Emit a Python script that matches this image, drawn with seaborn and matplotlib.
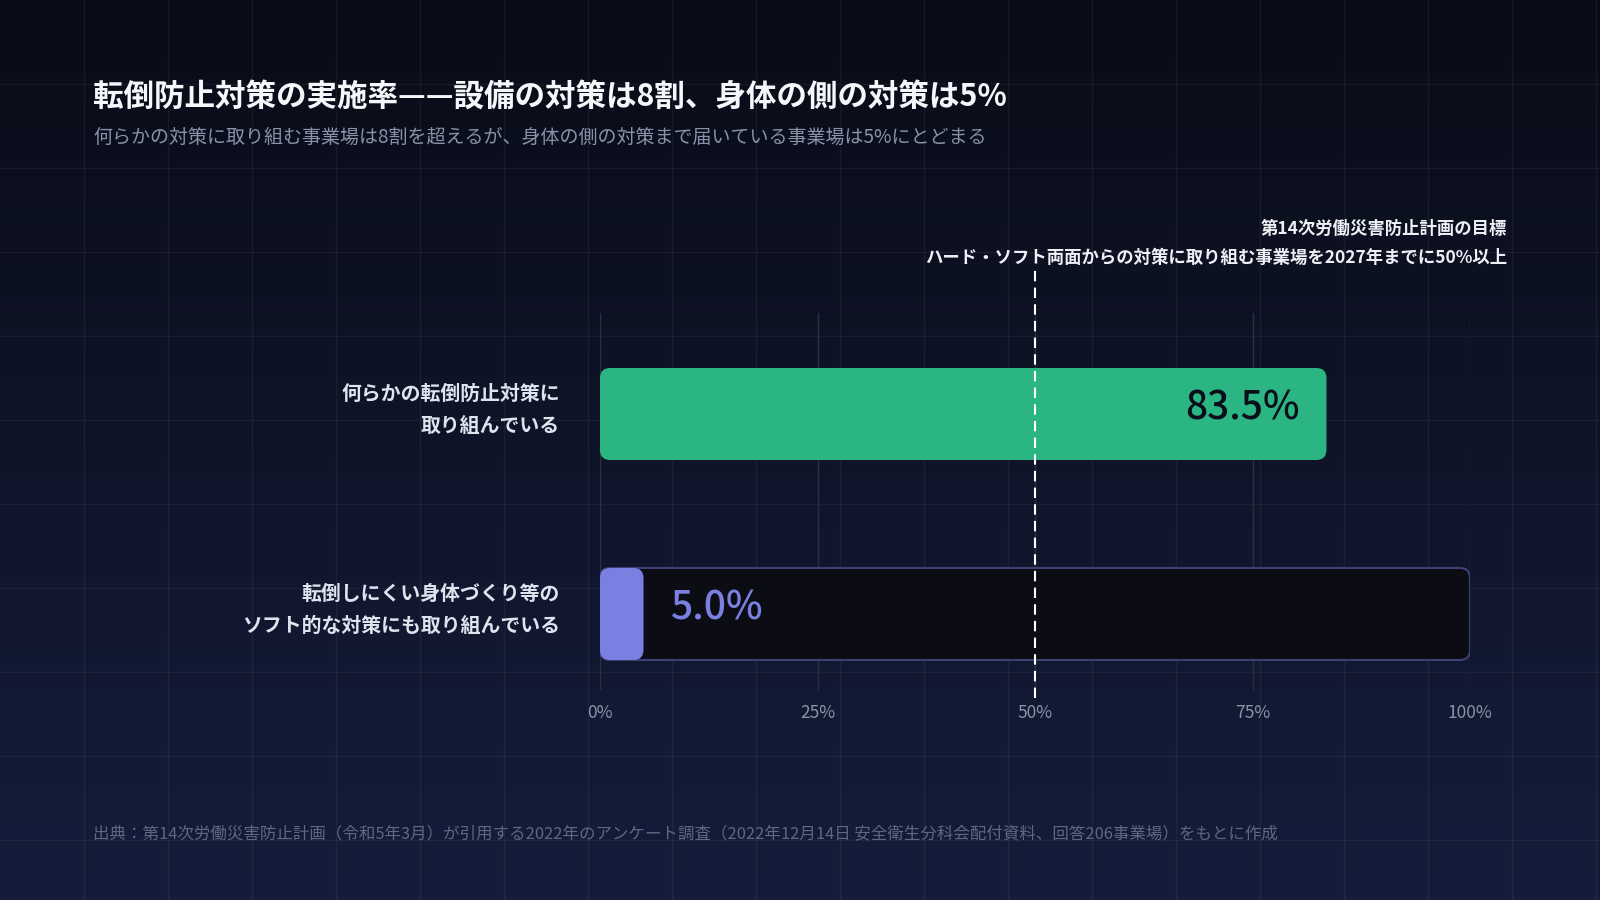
import matplotlib
matplotlib.use("Agg")
import matplotlib.pyplot as plt
from matplotlib.patches import FancyBboxPatch
import numpy as np
import pandas as pd
import seaborn as sns

# values
categories = ["何らかの転倒防止対策に\n取り組んでいる",
              "転倒しにくい身体づくり等の\nソフト的な対策にも取り組んでいる"]
values = [83.5, 5.0]
bar_colors = ["#2bb582", "#7a80e2"]
ticks = [0, 25, 50, 75, 100]
tick_labels = ["0%", "25%", "50%", "75%", "100%"]
target = 50

title = "転倒防止対策の実施率——設備の対策は8割、身体の側の対策は5%"
subtitle = "何らかの対策に取り組む事業場は8割を超えるが、身体の側の対策まで届いている事業場は5%にとどまる"
target_note = ["第14次労働災害防止計画の目標",
               "ハード・ソフト両面からの対策に取り組む事業場を2027年までに50%以上"]
source = ("出典：第14次労働災害防止計画（令和5年3月）が引用する2022年のアンケート調査"
          "（2022年12月14日 安全衛生分科会配付資料、回答206事業場）をもとに作成")

sns.set_theme(style="white")
plt.rcParams['font.family'] = ['Noto Sans CJK JP', 'DejaVu Sans']

W, H = 1600, 900
fig = plt.figure(figsize=(16, 9), dpi=100)

# background: gradient + faint square grid
bg = fig.add_axes([0, 0, 1, 1], zorder=0)
top = np.array(matplotlib.colors.to_rgb("#090c17"))
bot = np.array(matplotlib.colors.to_rgb("#151d3b"))
t = np.linspace(0, 1, 256)[:, None, None]
grad = top + (bot - top) * t
bg.imshow(np.repeat(grad, 2, axis=1), extent=[0, W, H, 0], aspect="auto")
for gx in range(84, W, 84):
    bg.axvline(gx, color="white", alpha=0.05, lw=1)
for gy in range(84, H, 84):
    bg.axhline(gy, color="white", alpha=0.05, lw=1)
bg.set_xlim(0, W)
bg.set_ylim(H, 0)
bg.axis("off")

# main plot area (pixel box 600..1470 x 313..690)
ax = fig.add_axes([600 / W, (H - 690) / H, 870 / W, 377 / H], zorder=1)
ax.set_facecolor("none")

df = pd.DataFrame({"cat": categories, "val": values})
sns.barplot(data=df, x="val", y="cat", hue="cat", palette=bar_colors,
            saturation=1, orient="h", legend=False, ax=ax, width=0.46, zorder=3)

ax.set_xlim(0, 100)
ax.set_ylim(1.38, -0.505)

# px per unit, for rounded corners
fig.canvas.draw()
p0 = ax.transData.transform((0, 0))
p1 = ax.transData.transform((1, 1))
px_x = abs(p1[0] - p0[0])
px_y = abs(p1[1] - p0[1])
radius = 10 / px_x
aspect = px_x / px_y

bars = sorted(ax.patches, key=lambda p: p.get_y())
for i, p in enumerate(bars):
    x, y, w, h = p.get_x(), p.get_y(), p.get_width(), p.get_height()
    p.remove()
    if values[i] < target:
        track = FancyBboxPatch((0, y), 100, h,
                               boxstyle=f"round,pad=0,rounding_size={radius}",
                               mutation_aspect=aspect, facecolor="#0b0c14",
                               edgecolor="#3c4273", lw=1.5, zorder=2)
        ax.add_patch(track)
    rb = FancyBboxPatch((x, y), w, h,
                        boxstyle=f"round,pad=0,rounding_size={radius}",
                        mutation_aspect=aspect, facecolor=bar_colors[i],
                        edgecolor="none", zorder=3)
    ax.add_patch(rb)
    off = 27 / px_x
    if values[i] > target:
        ax.text(values[i] - off, i + 0.025, f"{values[i]:.1f}%", ha="right",
                va="baseline", fontsize=28, color="#0a0e1a", fontweight="medium", zorder=5)
    else:
        ax.text(values[i] + off, i + 0.025, f"{values[i]:.1f}%", ha="left",
                va="baseline", fontsize=28, color=bar_colors[i], fontweight="medium", zorder=5)

# target line
ax.axvline(target, ymin=-0.02, ymax=1.115, clip_on=False, color="white",
           lw=1.5, dashes=(5, 3), zorder=6)

ax.set_xticks(ticks)
ax.set_xticklabels(tick_labels)
# labels sit a little above the bar centre in the reference
ax.set_yticks([i - 0.06 for i in range(len(categories))], categories)
ax.grid(axis="x", color="#2a3044", lw=1, zorder=0)
ax.grid(axis="y", visible=False)
for s in ax.spines.values():
    s.set_visible(False)
ax.tick_params(axis="x", length=0, pad=10, labelsize=12.5, labelcolor="#8a91a8")
ax.tick_params(axis="y", length=0, pad=29, labelsize=14.3, labelcolor="#dfe3ee")
for lab in ax.get_yticklabels():
    lab.set_fontweight("bold")
    lab.set_linespacing(1.65)
ax.set_xlabel("")
ax.set_ylabel("")

# texts
fig.text(93 / W, 1 - 98 / H, title, fontsize=22, fontweight="bold",
         color="#f5f7fb", va="center", ha="left")
fig.text(93 / W, 1 - 137.5 / H, subtitle, fontsize=13.7, color="#8a91a8",
         va="center", ha="left")
fig.text(1507 / W, 1 - 229 / H, target_note[0], fontsize=12.5, fontweight="bold",
         color="#eef0f6", va="center", ha="right")
fig.text(1507 / W, 1 - 258 / H, target_note[1], fontsize=12.5, fontweight="bold",
         color="#eef0f6", va="center", ha="right")
fig.text(93 / W, 1 - 834 / H, source, fontsize=11.85, color="#5f6782",
         va="center", ha="left")

fig.savefig("out.png", dpi=100, facecolor="#0c1020")
